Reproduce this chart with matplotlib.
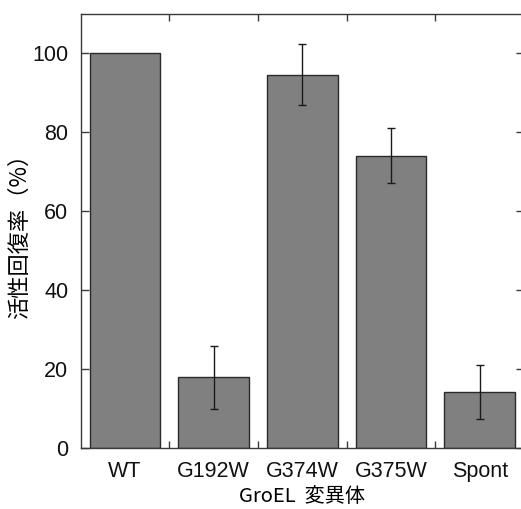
import matplotlib
matplotlib.use('Agg')
import matplotlib.pyplot as plt
import numpy as np
from matplotlib.ticker import FixedLocator

# データ
mutants = ['WT', 'G192W', 'G374W', 'G375W', 'Spont']
recovery = [100.0, 18.0, 94.6, 74.1, 14.2]
err = [np.nan, 8.0, 7.7, 7.0, 6.9]  # WT はエラーバーなし

plt.rcParams['font.family'] = ['Liberation Sans', 'Noto Sans CJK JP', 'DejaVu Sans']

fig = plt.figure(figsize=(5.21, 5.09), dpi=100)
ax = fig.add_axes([80.7 / 521, 1 - 448.3 / 509, (524 - 80.7) / 521, (448.3 - 13.7) / 509])

x = np.arange(len(mutants))
ax.bar(x, recovery, width=0.8, color='#808080', edgecolor='#2a2a2a', linewidth=1.0, zorder=2)
has_err = ~np.isnan(err)
ax.errorbar(x[has_err], np.array(recovery)[has_err], yerr=np.array(err)[has_err], fmt='none',
            ecolor='#1a1a1a', elinewidth=1.0, capsize=3, capthick=1.0, zorder=3)

ax.set_xlim(-0.5, 4.5)
ax.set_ylim(0, 110)
ax.set_yticks([0, 20, 40, 60, 80, 100])
ax.set_xticks(x)
ax.set_xticklabels(mutants)
ax.xaxis.set_minor_locator(FixedLocator([0.5, 1.5, 2.5, 3.5]))

for s in ax.spines.values():
    s.set_color('#3a3a3a')
    s.set_linewidth(1.0)

ax.tick_params(axis='x', which='major', length=0, pad=9, labelsize=15.5, labelcolor='#111111')
ax.tick_params(axis='x', which='minor', direction='in', length=5, width=1,
               color='#3a3a3a', top=True, bottom=True)
ax.tick_params(axis='y', which='major', direction='in', length=6, width=1,
               color='#3a3a3a', left=True, right=True, pad=9, labelsize=15.5, labelcolor='#111111')

ax.set_ylabel('活性回復率（%）', fontsize=16, family=['Noto Sans CJK JP', 'DejaVu Sans'], labelpad=1)
ax.set_xlabel('GroEL  変異体', fontsize=14.5, family=['Noto Sans CJK JP', 'DejaVu Sans'], labelpad=3)

fig.savefig('out.png', dpi=100)
